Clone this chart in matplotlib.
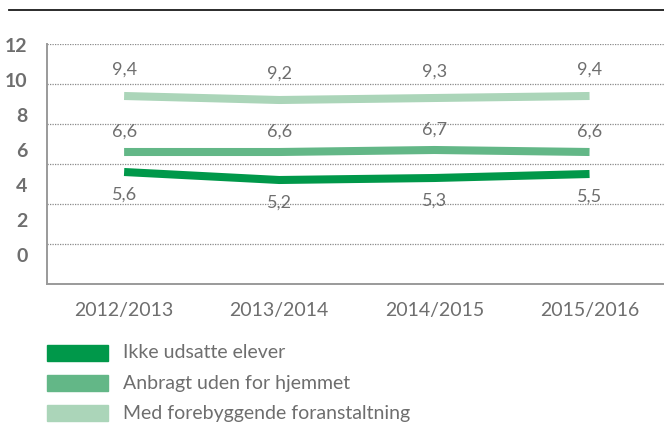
import numpy as np
import matplotlib
matplotlib.use("Agg")
import matplotlib.pyplot as plt
from matplotlib.lines import Line2D
from matplotlib.patches import Rectangle

# data
years = ['2012/2013', '2013/2014', '2014/2015', '2015/2016']
ikke = [5.6, 5.2, 5.3, 5.5]
anbragt = [6.6, 6.6, 6.7, 6.6]
med = [9.4, 9.2, 9.3, 9.4]
names = ['Ikke udsatte elever', 'Anbragt uden for hjemmet', 'Med forebyggende foranstaltning']
colors = ['#00984A', '#63B787', '#ABD5B9']
ytick_labels = ['12', '10', '8', '6', '4', '2', '0']

plt.rcParams['font.family'] = ['Lato', 'DejaVu Sans']
txt = '#6E6E6E'

fig = plt.figure(figsize=(6.64, 4.26), dpi=100)
ax = fig.add_axes([47/664, 1-284/426, 1-47/664, 240/426])

x = np.arange(len(years))
series = [ikke, anbragt, med]
offs = [-16, 15, 19]  # label offsets in points
for vals, c, o in zip(series, colors, offs):
    ax.plot(x, vals, color=c, lw=5.8, solid_capstyle='butt', zorder=3)
    for xi, v in zip(x, vals):
        ax.annotate(('%.1f' % v).replace('.', ','), (xi, v), xytext=(0, o),
                    textcoords='offset points', ha='center', va='center',
                    fontsize=13, color=txt)

ax.set_xlim(-0.497, 3.48)
ax.set_ylim(0, 12)
for g in range(2, 13, 2):
    ax.axhline(g, color='#8a8a8a', lw=0.9, ls=(0, (1, 1)), zorder=1)

# the y labels in the source sit off the gridlines
ax.set_yticks(np.linspace(11.95, 1.45, 7))
ax.set_yticklabels(ytick_labels, fontsize=14, fontweight='bold', color=txt)
ax.tick_params(axis='y', length=0, pad=14)
ax.set_xticks(x)
ax.set_xticklabels(years, fontsize=14, color=txt)
ax.tick_params(axis='x', length=0, pad=13)

for s in ['top', 'right']:
    ax.spines[s].set_visible(False)
for s in ['left', 'bottom']:
    ax.spines[s].set_color('#9a9a9a')
    ax.spines[s].set_linewidth(1.4)

# top rule
fig.add_artist(Line2D([9/664, 1], [1-9.5/426, 1-9.5/426], color='#1a1a1a', lw=1.3))

# legend
for i, (n, c) in enumerate(zip(names, colors)):
    yc = 353 + i*30
    fig.add_artist(Rectangle((47/664, 1-(yc+8)/426), 61/664, 16/426, color=c, transform=fig.transFigure))
    fig.text(123/664, 1-yc/426, n, fontsize=14, color=txt, va='center', ha='left')

fig.savefig('out.png', dpi=100)
